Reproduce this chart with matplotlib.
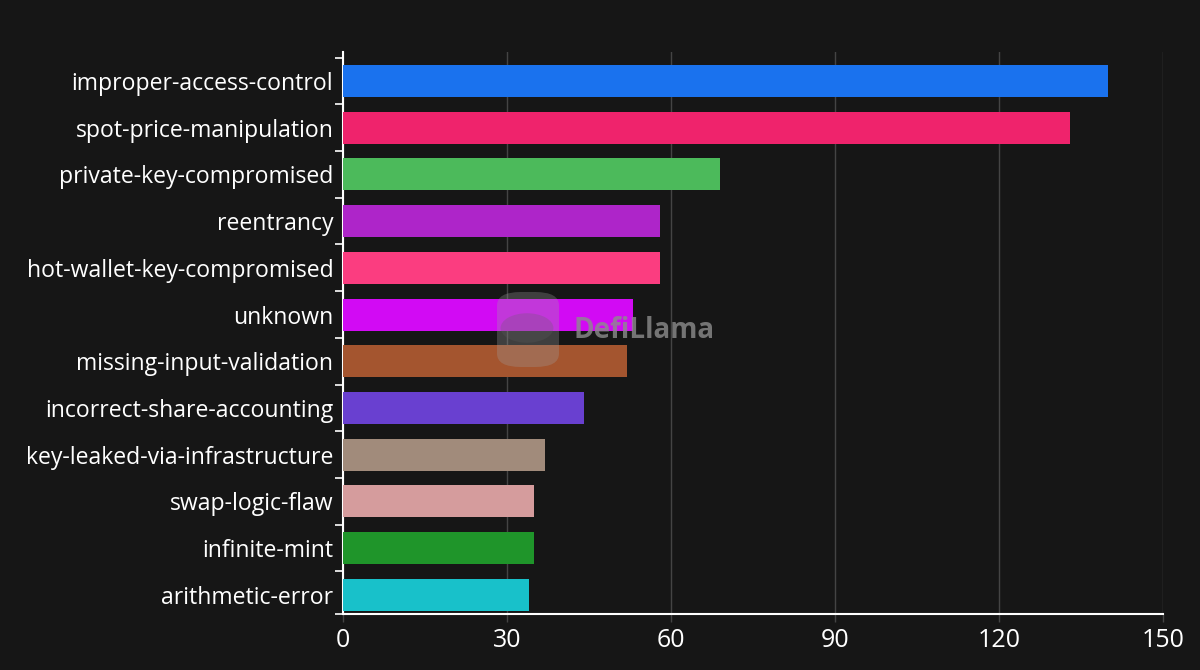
import matplotlib
matplotlib.use("Agg")
import matplotlib.pyplot as plt
from matplotlib.patches import FancyBboxPatch, Circle
import numpy as np

categories = ["improper-access-control", "spot-price-manipulation", "private-key-compromised",
              "reentrancy", "hot-wallet-key-compromised", "unknown", "missing-input-validation",
              "incorrect-share-accounting", "key-leaked-via-infrastructure", "swap-logic-flaw",
              "infinite-mint", "arithmetic-error"]
values = [140, 133, 69, 58, 58, 53, 52, 44, 37, 35, 35, 34]
colors = ["#1a72ee", "#ef236c", "#4cba5b", "#ae25c9", "#fb3d80", "#d20af4", "#a4552f",
          "#6940d0", "#a18b7b", "#d59c9d", "#1f952a", "#18c1ca"]
x_ticks = [0, 30, 60, 90, 120, 150]

bg = "#161616"
plt.rcParams['font.family'] = ['Open Sans', 'DejaVu Sans']

fig = plt.figure(figsize=(12, 6.7), dpi=100, facecolor=bg)
ax = fig.add_axes([343/1200, 1-614/670, (1163-343)/1200, (614-52)/670])
ax.set_facecolor(bg)

n = len(categories)
y = np.arange(n)
ax.barh(y, values, height=0.685, color=colors, zorder=3)
ax.set_ylim(n - 1 + 0.41, -0.62)
ax.set_xlim(0, 150)
ax.set_xticks(x_ticks)
ax.set_xticklabels([str(t) for t in x_ticks])
ax.set_yticks(y)
ax.set_yticklabels(categories)
ax.set_yticks(list(np.arange(n - 1) + 0.5) + [n - 1 + 0.41, -0.5], minor=True)

ax.grid(axis='x', color='#444444', linewidth=1, zorder=0)
ax.tick_params(axis='y', which='major', length=0, pad=7, labelsize=16.6, labelcolor='white')
ax.tick_params(axis='y', which='minor', length=6, width=1.2, color='white', direction='out')
ax.tick_params(axis='x', which='major', length=6, width=1, color='#444444', pad=4,
               labelsize=18, labelcolor='white')

for s in ['top', 'right']:
    ax.spines[s].set_visible(False)
ax.spines['left'].set_color('white')
ax.spines['bottom'].set_color('white')
ax.spines['left'].set_linewidth(1.5)
ax.spines['bottom'].set_linewidth(1.5)

# watermark
logo = FancyBboxPatch((497/1200, 1-367/670), 62/1200, 75/670,
                      boxstyle="round,pad=0,rounding_size=0.02",
                      transform=fig.transFigure, facecolor='#a0a0a0', alpha=0.3,
                      edgecolor='none', zorder=10)
fig.patches.append(logo)
circ = Circle((527/1200, 1-328/670), 0.022, transform=fig.transFigure,
              facecolor='#606060', alpha=0.25, edgecolor='none', zorder=11)
fig.patches.append(circ)
fig.text(573/1200, 1-331/670, "DefiLlama", color='#8c8c8c', alpha=0.8, fontsize=20,
         fontweight='bold', ha='left', va='center', zorder=12)

fig.savefig("out.png", dpi=100, facecolor=bg)
